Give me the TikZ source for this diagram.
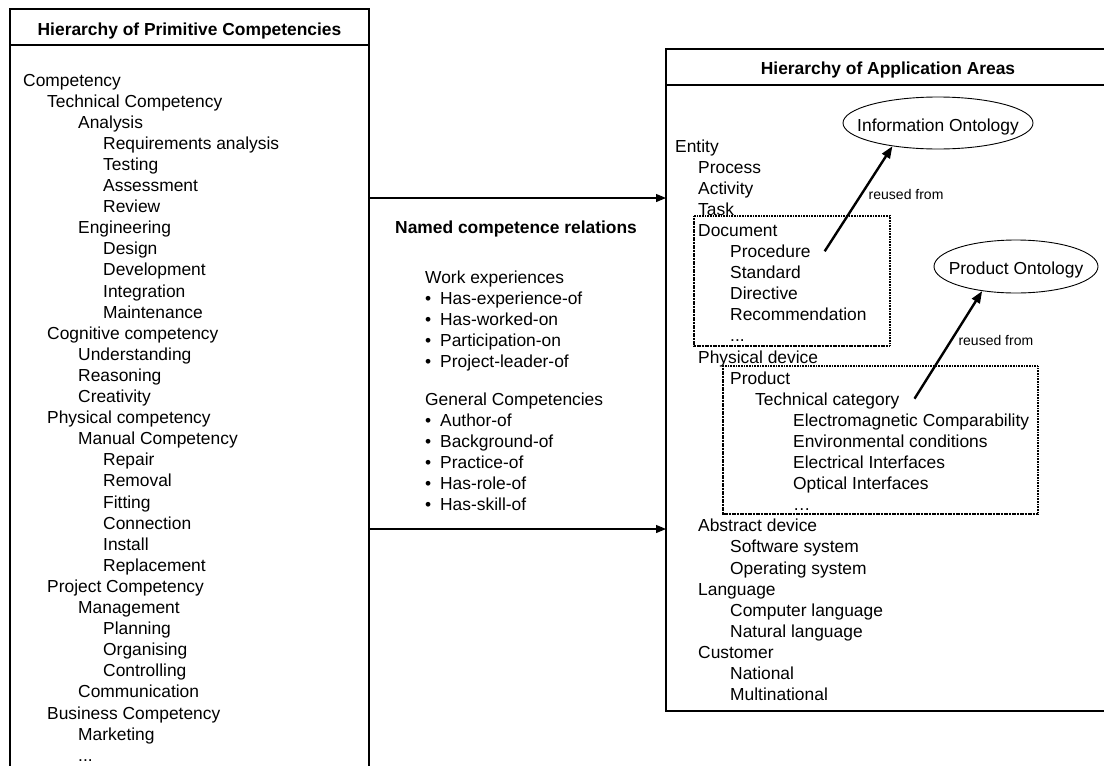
\documentclass[tikz,border=0pt]{standalone}
\usepackage{fontspec}
\setmainfont{Liberation Sans}
\usepackage{tikz}
\usetikzlibrary{shapes.geometric,arrows.meta}

\begin{document}
\begin{tikzpicture}[x=1pt,y=-1pt,
  every node/.style={font=\fontsize{17.4}{21}\selectfont},
  item/.style={anchor=base west,inner sep=0pt},
  heading/.style={inner sep=0pt,font=\fontsize{17.4}{21}\selectfont\bfseries},
  frame/.style={line width=1.6pt,line join=miter},
  group/.style={line width=1.6pt,dash pattern=on 1.1pt off 0.5pt},
  ontology/.style={ellipse,draw,line width=0.9pt,inner sep=0pt,text height=18pt,text depth=2pt,
    minimum width=190pt,minimum height=52pt},
  link/.style={-{Triangle[length=10pt,width=8pt]},line width=1.2pt},
  reuse/.style={-{Triangle[length=12pt,width=9pt]},line width=2.4pt},
  note/.style={anchor=west,inner sep=0pt,font=\fontsize{14}{16}\selectfont}]
\useasboundingbox (0,0) rectangle (1104,766);

% left frame: primitive competencies
\draw[frame] (10,770) -- (10,9) -- (369,9) -- (369,770);
\draw[frame] (10,45) -- (369,45);
\node[heading,anchor=base] (pctitle) at (189.5,35) {Hierarchy of Primitive Competencies};
\coordinate (pcout1) at (369,198);
\coordinate (pcout2) at (369,529);

\node[item] (pc0) at (23,86.0) {Competency};
\node[item] (pc1) at (47,107.1) {Technical Competency};
\node[item] (pc2) at (78,128.2) {Analysis};
\node[item] (pc3) at (103,149.3) {Requirements analysis};
\node[item] (pc4) at (103,170.4) {Testing};
\node[item] (pc5) at (103,191.5) {Assessment};
\node[item] (pc6) at (103,212.6) {Review};
\node[item] (pc7) at (78,233.7) {Engineering};
\node[item] (pc8) at (103,254.8) {Design};
\node[item] (pc9) at (103,275.9) {Development};
\node[item] (pc10) at (103,297.0) {Integration};
\node[item] (pc11) at (103,318.1) {Maintenance};
\node[item] (pc12) at (47,339.2) {Cognitive competency};
\node[item] (pc13) at (78,360.3) {Understanding};
\node[item] (pc14) at (78,381.4) {Reasoning};
\node[item] (pc15) at (78,402.5) {Creativity};
\node[item] (pc16) at (47,423.6) {Physical competency};
\node[item] (pc17) at (78,444.7) {Manual Competency};
\node[item] (pc18) at (103,465.8) {Repair};
\node[item] (pc19) at (103,486.9) {Removal};
\node[item] (pc20) at (103,508.0) {Fitting};
\node[item] (pc21) at (103,529.1) {Connection};
\node[item] (pc22) at (103,550.2) {Install};
\node[item] (pc23) at (103,571.3) {Replacement};
\node[item] (pc24) at (47,592.4) {Project Competency};
\node[item] (pc25) at (78,613.5) {Management};
\node[item] (pc26) at (103,634.6) {Planning};
\node[item] (pc27) at (103,655.7) {Organising};
\node[item] (pc28) at (103,676.8) {Controlling};
\node[item] (pc29) at (78,697.9) {Communication};
\node[item] (pc30) at (47,719.0) {Business Competency};
\node[item] (pc31) at (78,740.1) {Marketing};
\node[item] (pc32) at (78,761.2) {...};

% named relations in the middle
\node[heading,anchor=base west] (reltitle) at (395,233) {Named competence relations};
\node[item] (work) at (425,283.0) {Work experiences};
\node[item] (w1) at (425,304.1) {\makebox[15pt][l]{•}Has-experience-of};
\node[item] (w2) at (425,325.2) {\makebox[15pt][l]{•}Has-worked-on};
\node[item] (w3) at (425,346.3) {\makebox[15pt][l]{•}Participation-on};
\node[item] (w4) at (425,367.4) {\makebox[15pt][l]{•}Project-leader-of};
\node[item] (general) at (425,405.0) {General Competencies};
\node[item] (g1) at (425,426.1) {\makebox[15pt][l]{•}Author-of};
\node[item] (g2) at (425,447.2) {\makebox[15pt][l]{•}Background-of};
\node[item] (g3) at (425,468.3) {\makebox[15pt][l]{•}Practice-of};
\node[item] (g4) at (425,489.4) {\makebox[15pt][l]{•}Has-role-of};
\node[item] (g5) at (425,510.5) {\makebox[15pt][l]{•}Has-skill-of};

% right frame: application areas
\draw[frame] (1110,49) -- (666,49) -- (666,711) -- (1110,711);
\draw[frame] (666,85) -- (1110,85);
\node[heading,anchor=base] (aatitle) at (888,74) {Hierarchy of Application Areas};
\coordinate (aain1) at (666,198);
\coordinate (aain2) at (666,529);

\node[item] (aa0) at (675,152.0) {Entity};
\node[item] (aa1) at (698,173.1) {Process};
\node[item] (aa2) at (698,194.2) {Activity};
\node[item] (aa3) at (698,215.3) {Task};
\node[item] (aa4) at (698,236.4) {Document};
\node[item] (procedure) at (730,257.5) {Procedure};
\node[item] (aa6) at (730,278.6) {Standard};
\node[item] (aa7) at (730,299.7) {Directive};
\node[item] (aa8) at (730,320.8) {Recommendation};
\node[item] (aa9) at (730,341.9) {...};
\node[item] (aa10) at (698,363.0) {Physical device};
\node[item] (aa11) at (730,384.1) {Product};
\node[item] (techcat) at (755,405.2) {Technical category};
\node[item] (aa13) at (793,426.3) {Electromagnetic Comparability};
\node[item] (aa14) at (793,447.4) {Environmental conditions};
\node[item] (aa15) at (793,468.5) {Electrical Interfaces};
\node[item] (aa16) at (793,489.6) {Optical Interfaces};
\node[item] (aa17) at (793,510.7) {…};
\node[item] (aa18) at (698,531.8) {Abstract device};
\node[item] (aa19) at (730,552.9) {Software system};
\node[item] (aa20) at (730,574.0) {Operating system};
\node[item] (aa21) at (698,595.1) {Language};
\node[item] (aa22) at (730,616.2) {Computer language};
\node[item] (aa23) at (730,637.3) {Natural language};
\node[item] (aa24) at (698,658.4) {Customer};
\node[item] (aa25) at (730,679.5) {National};
\node[item] (aa26) at (730,700.6) {Multinational};

% reused parts
\draw[group] (694,216) rectangle (890,346);
\draw[group] (723,366) rectangle (1038,514);
\node[ontology] (infoonto) at (938,123) {\makebox[0pt]{Information Ontology}};
\node[ontology,minimum width=164pt,minimum height=53pt] (prodonto) at (1016,266.5) {\makebox[0pt]{Product Ontology}};

\draw[reuse] ([xshift=14pt]procedure.east) -- (infoonto.207)
  node[note,midway,xshift=9pt,yshift=4pt] (reuse1) {reused from};
\draw[reuse] ([shift={(15pt,2pt)}]techcat.east) -- (prodonto.216)
  node[note,midway,xshift=9pt,yshift=4pt] (reuse2) {reused from};

\draw[link] (pcout1) -- (aain1);
\draw[link] (pcout2) -- (aain2);
\end{tikzpicture}
\end{document}
